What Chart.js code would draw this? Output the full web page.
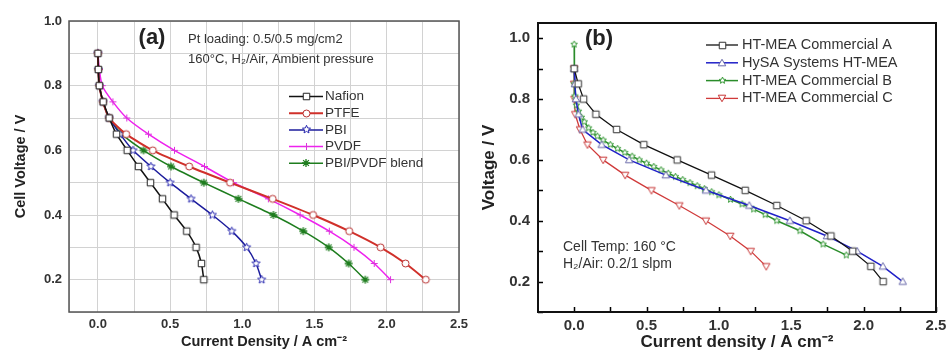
<!DOCTYPE html>
<html>
<head>
<meta charset="utf-8">
<script src="https://cdn.jsdelivr.net/npm/chart.js@4.4.1/dist/chart.umd.min.js"></script>
<style>
  body { margin: 0; background: #fff; }
  .wrap { position: relative; width: 946px; height: 354px; }
  #chartA { position: absolute; left: 0; top: 0; }
  #chartB { position: absolute; left: 470px; top: 0; }
</style>
</head>
<body>
<div class="wrap">
  <canvas id="chartA" width="470" height="354"></canvas>
  <canvas id="chartB" width="476" height="354"></canvas>
</div>
<script>
// ---- Panel (a): current density (A/cm2) read at each cell voltage ----
const VOLT_A = [0.9, 0.85, 0.8, 0.75, 0.7, 0.65, 0.6, 0.55, 0.5, 0.45, 0.4, 0.35, 0.3, 0.25, 0.2];
const NAFION = [0, 0.003, 0.01, 0.037, 0.078, 0.129, 0.203, 0.281, 0.364, 0.447, 0.528, 0.615, 0.68, 0.717, 0.733];
const PTFE   = [0, 0.003, 0.01, 0.035, 0.078, 0.196, 0.38, 0.632, 0.915, 1.21, 1.49, 1.74, 1.957, 2.13, 2.27];
const PBI    = [0, 0.003, 0.01, 0.035, 0.078, 0.154, 0.243, 0.367, 0.5, 0.645, 0.793, 0.927, 1.03, 1.095, 1.134];
const PVDF   = [0, 0.01, 0.03, 0.104, 0.2, 0.35, 0.53, 0.738, 0.938, 1.18, 1.4, 1.602, 1.773, 1.913, 2.026];
const BLEND  = [0, 0.003, 0.01, 0.035, 0.078, 0.166, 0.316, 0.507, 0.733, 0.973, 1.215, 1.422, 1.598, 1.736, 1.851];
const NAMES_A = ['Nafion', 'PTFE', 'PBI', 'PVDF', 'PBI/PVDF blend'];

// ---- Panel (b) ----
const VOLT_B = [0.9, 0.85, 0.8, 0.75, 0.7, 0.65, 0.6, 0.55, 0.5, 0.45, 0.4, 0.35, 0.3, 0.25, 0.2];
const COMM_A = [0, 0.028, 0.065, 0.15, 0.293, 0.481, 0.712, 0.949, 1.182, 1.4, 1.603, 1.774, 1.924, 2.05, 2.135];
const HYSA   = [0, 0.005, 0.012, 0.03, 0.058, 0.19, 0.38, 0.633, 0.91, 1.21, 1.49, 1.746, 1.955, 2.133, 2.27];
const VOLT_C = [0.9, 0.85, 0.8, 0.75, 0.7, 0.65, 0.6, 0.55, 0.5, 0.45, 0.4, 0.35, 0.3, 0.25];
const COMM_C = [0, 0, 0.002, 0.007, 0.04, 0.092, 0.2, 0.352, 0.534, 0.726, 0.91, 1.078, 1.22, 1.327];
const COMM_B_J = [0, 0, 0, 0.005, 0.015, 0.03, 0.05, 0.07, 0.1, 0.13, 0.16, 0.2, 0.25, 0.3, 0.35, 0.4, 0.45, 0.5,
                  0.55, 0.6, 0.65, 0.7, 0.75, 0.8, 0.85, 0.9, 0.95, 1.0, 1.08, 1.16, 1.24, 1.32, 1.4, 1.56, 1.72, 1.88];
const COMM_B_V = [0.98, 0.9, 0.85, 0.81, 0.78, 0.76, 0.74, 0.725, 0.705, 0.69, 0.678, 0.665, 0.65, 0.637, 0.624, 0.612, 0.6, 0.589,
                  0.578, 0.567, 0.556, 0.545, 0.535, 0.525, 0.515, 0.505, 0.495, 0.485, 0.47, 0.455, 0.438, 0.42, 0.4, 0.367, 0.323, 0.287];
const NAMES_B = ['HT-MEA Commercial A', 'HySA Systems HT-MEA', 'HT-MEA Commercial B', 'HT-MEA Commercial C'];

// tick positions
const X_TICKS_A = [-0.2, 0, 0.25, 0.5, 0.75, 1, 1.25, 1.5, 1.75, 2, 2.25, 2.5];
const Y_TICKS = [0.1, 0.2, 0.3, 0.4, 0.5, 0.6, 0.7, 0.8, 0.9, 1.0];
const X_TICKS_B = [0, 0.25, 0.5, 0.75, 1, 1.25, 1.5, 1.75, 2, 2.25, 2.5];

const FONT = '"Liberation Sans", Arial, sans-serif';
const TEXT = '#333';

function toPoints(xs, ys) {
  return xs.map((x, i) => ({ x: x, y: ys[i] }));
}

// small hollow marker drawn on its own canvas, used as pointStyle
function makeMarker(kind, color, size, lw) {
  const s = Math.ceil(size + 4);
  const c = document.createElement('canvas');
  c.width = s; c.height = s;
  const ctx = c.getContext('2d');
  const m = s / 2, r = size / 2;
  ctx.strokeStyle = color;
  ctx.fillStyle = '#fff';
  ctx.lineWidth = lw || 1;
  ctx.beginPath();
  if (kind === 'square') {
    ctx.rect(m - r, m - r, 2 * r, 2 * r);
  } else if (kind === 'circle') {
    ctx.arc(m, m, r, 0, Math.PI * 2);
  } else if (kind === 'star') {
    for (let i = 0; i < 10; i++) {
      const a = -Math.PI / 2 + i * Math.PI / 5;
      const rr = i % 2 ? r * 0.45 : r;
      ctx.lineTo(m + rr * Math.cos(a), m + rr * Math.sin(a));
    }
    ctx.closePath();
  } else if (kind === 'tri') {
    ctx.moveTo(m, m - r);
    ctx.lineTo(m + r, m + r * 0.75);
    ctx.lineTo(m - r, m + r * 0.75);
    ctx.closePath();
  } else if (kind === 'tridown') {
    ctx.moveTo(m, m + r);
    ctx.lineTo(m + r, m - r * 0.75);
    ctx.lineTo(m - r, m - r * 0.75);
    ctx.closePath();
  } else if (kind === 'plus' || kind === 'asterisk') {
    ctx.moveTo(m - r, m); ctx.lineTo(m + r, m);
    ctx.moveTo(m, m - r); ctx.lineTo(m, m + r);
    if (kind === 'asterisk') {
      const d = r * 0.72;
      ctx.moveTo(m - d, m - d); ctx.lineTo(m + d, m + d);
      ctx.moveTo(m - d, m + d); ctx.lineTo(m + d, m - d);
    }
    ctx.stroke();
    return c;
  }
  ctx.fill();
  ctx.stroke();
  return c;
}

function isMultiple(v, step) {
  const q = v / step;
  return Math.abs(q - Math.round(q)) < 1e-6;
}

// frame, inner ticks, legend and notes for one panel
function panelDecor(opts) {
  return {
    id: 'decor',
    afterDraw(chart) {
      const { ctx, chartArea: a } = chart;
      ctx.save();
      if (opts.innerTicks) {
        ctx.strokeStyle = '#000';
        ctx.lineWidth = 1.5;
        ctx.beginPath();
        const xs = chart.scales.x, ys = chart.scales.y;
        xs.ticks.forEach(t => {
          const px = Math.round(xs.getPixelForValue(t.value)) + 0.5;
          ctx.moveTo(px, a.bottom); ctx.lineTo(px, a.bottom - 5);
        });
        ys.ticks.forEach(t => {
          const py = Math.round(ys.getPixelForValue(t.value)) + 0.5;
          ctx.moveTo(a.left, py); ctx.lineTo(a.left + 5, py);
        });
        ctx.stroke();
      }
      ctx.strokeStyle = opts.frameColor;
      ctx.lineWidth = opts.frameWidth;
      ctx.strokeRect(a.left, a.top, a.right - a.left, a.bottom - a.top);

      const lg = opts.legend;
      ctx.font = lg.font;
      ctx.textBaseline = 'middle';
      chart.data.datasets.forEach((ds, i) => {
        const y = lg.y0 + i * lg.dy;
        ctx.strokeStyle = ds.borderColor;
        ctx.lineWidth = ds.borderWidth;
        ctx.beginPath();
        ctx.moveTo(lg.x0, y); ctx.lineTo(lg.x1, y);
        ctx.stroke();
        const img = ds.pointStyle;
        ctx.drawImage(img, Math.round((lg.x0 + lg.x1) / 2 - img.width / 2), Math.round(y - img.height / 2));
        ctx.fillStyle = TEXT;
        ctx.fillText(ds.label, lg.tx, y);
      });

      opts.notes.forEach(n => {
        ctx.font = n.font;
        ctx.fillStyle = n.color || TEXT;
        ctx.textAlign = n.align || 'left';
        ctx.fillText(n.text, n.x, n.y);
      });
      ctx.restore();
    }
  };
}

function baseScales(cfg) {
  return {
    x: {
      type: 'linear', min: cfg.xmin, max: 2.5,
      afterBuildTicks: s => { s.ticks = cfg.xticks.map(v => ({ value: v })); },
      afterFit: s => { s.height = 42; s.paddingLeft = 0; s.paddingRight = 0; },
      ticks: {
        callback: v => (v >= 0 && isMultiple(v, 0.5)) ? v.toFixed(1) : '',
        font: { family: FONT, size: cfg.tickSize, weight: 'bold' }, color: TEXT,
        padding: 5, maxRotation: 0, autoSkip: false
      },
      grid: { display: cfg.grid, color: '#d2d2d2', drawTicks: false },
      border: { display: false },
      title: {
        display: true, text: cfg.xtitle, color: '#222',
        font: { family: FONT, size: cfg.titleSize, weight: 'bold' },
        padding: { top: 0, bottom: cfg.xtitlePad }
      }
    },
    y: {
      type: 'linear', min: 0.1, max: cfg.ymax,
      afterBuildTicks: s => { s.ticks = Y_TICKS.map(v => ({ value: v })); },
      afterFit: s => { s.width = cfg.yWidth; s.paddingTop = 0; s.paddingBottom = 0; },
      ticks: {
        callback: v => (v >= 0.2 && isMultiple(v, 0.2)) ? v.toFixed(1) : '',
        font: { family: FONT, size: cfg.tickSize, weight: 'bold' }, color: TEXT,
        padding: cfg.yTickPad, autoSkip: false
      },
      grid: { display: cfg.grid, color: '#d2d2d2', drawTicks: false },
      border: { display: false },
      title: {
        display: true, text: cfg.ytitle, color: '#222',
        font: { family: FONT, size: cfg.titleSize, weight: 'bold' },
        padding: { top: cfg.ytitlePad, bottom: 0 }
      }
    }
  };
}

function series(label, xs, ys, color, marker, width, tension) {
  return {
    label: label,
    data: toPoints(xs, ys),
    showLine: true,
    borderColor: color,
    borderWidth: width,
    pointStyle: marker,
    tension: tension,
    pointRadius: 4,
    clip: false
  };
}

// ---- chart (a) ----
new Chart(document.getElementById('chartA'), {
  type: 'scatter',
  data: {
    datasets: [
      series(NAMES_A[0], NAFION, VOLT_A, '#111', makeMarker('square', '#222', 6.5), 1.5, 0.2),
      series(NAMES_A[1], PTFE, VOLT_A, '#d0302a', makeMarker('circle', '#b83030', 7), 2, 0.2),
      series(NAMES_A[2], PBI, VOLT_A, '#1c1c9c', makeMarker('star', '#2a2ab0', 8.5), 1.5, 0.2),
      series(NAMES_A[3], PVDF, VOLT_A, '#ee22ee', makeMarker('plus', '#dd33dd', 7), 1.5, 0.2),
      series(NAMES_A[4], BLEND, VOLT_A, '#1e7d1e', makeMarker('asterisk', '#1e7d1e', 8, 1.3), 1.5, 0.2)
    ]
  },
  options: {
    responsive: false, animation: false, devicePixelRatio: 1,
    layout: { padding: { top: 21, right: 11, left: 0, bottom: 0 } },
    plugins: { legend: { display: false }, tooltip: { enabled: false } },
    scales: baseScales({
      xmin: -0.2, xticks: X_TICKS_A, ymax: 1.0, grid: true, tickSize: 13, titleSize: 14.5,
      xtitle: 'Current Density / A cm\u207B\u00B2', ytitle: 'Cell Voltage / V',
      xtitlePad: 3, ytitlePad: 12, yWidth: 69, yTickPad: 7
    })
  },
  plugins: [panelDecor({
    frameColor: '#555', frameWidth: 1.5,
    legend: { x0: 289, x1: 323, tx: 325, y0: 96.5, dy: 16.7, font: '13.5px ' + FONT },
    notes: [
      { text: '(a)', x: 152, y: 38, align: 'center', font: 'bold 22px ' + FONT, color: '#222' },
      { text: 'Pt loading: 0.5/0.5 mg/cm2', x: 188, y: 39, font: '13px ' + FONT },
      { text: '160\u00B0C, H\u2082/Air, Ambient pressure', x: 188, y: 59, font: '13px ' + FONT }
    ]
  })]
});

// ---- chart (b) ----
new Chart(document.getElementById('chartB'), {
  type: 'scatter',
  data: {
    datasets: [
      series(NAMES_B[0], COMM_A, VOLT_B, '#111', makeMarker('square', '#333', 6.5), 1.3, 0),
      series(NAMES_B[1], HYSA, VOLT_B, '#2020c8', makeMarker('tri', '#6a6aaa', 7.5), 1.5, 0),
      series(NAMES_B[2], COMM_B_J, COMM_B_V, '#2a8c2a', makeMarker('star', '#3a9a3a', 7), 1.5, 0),
      series(NAMES_B[3], COMM_C, VOLT_C, '#d03a3a', makeMarker('tridown', '#c83838', 7.5), 1.3, 0)
    ]
  },
  options: {
    responsive: false, animation: false, devicePixelRatio: 1,
    layout: { padding: { top: 23, right: 10, left: 0, bottom: 0 } },
    plugins: { legend: { display: false }, tooltip: { enabled: false } },
    scales: baseScales({
      xmin: -0.25, xticks: X_TICKS_B, ymax: 1.05, grid: false, tickSize: 15, titleSize: 17,
      xtitle: 'Current density / A cm\u207B\u00B2', ytitle: 'Voltage / V',
      xtitlePad: 1, ytitlePad: 9, yWidth: 68, yTickPad: 8
    })
  },
  plugins: [panelDecor({
    innerTicks: true,
    frameColor: '#111', frameWidth: 2,
    legend: { x0: 236, x1: 268, tx: 272, y0: 45, dy: 17.8, font: '14.5px ' + FONT },
    notes: [
      { text: '(b)', x: 129, y: 39, align: 'center', font: 'bold 22px ' + FONT, color: '#222' },
      { text: 'Cell Temp: 160 \u00B0C', x: 93, y: 247, font: '14px ' + FONT },
      { text: 'H\u2082/Air: 0.2/1 slpm', x: 93, y: 264, font: '14px ' + FONT }
    ]
  })]
});
</script>
</body>
</html>
